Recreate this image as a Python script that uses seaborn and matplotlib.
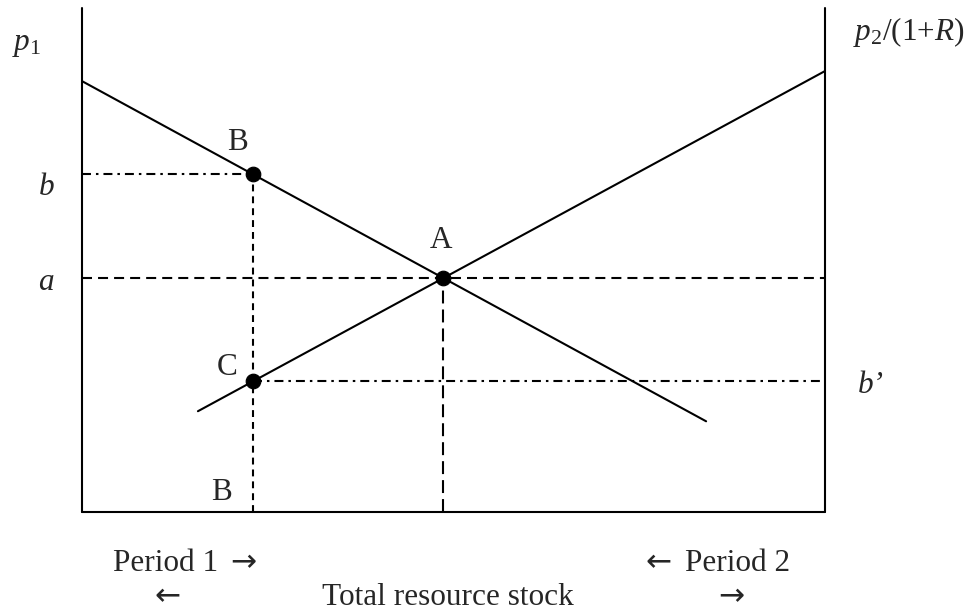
import matplotlib
matplotlib.use("Agg")
import matplotlib.pyplot as plt
import seaborn as sns
import pandas as pd

# Two-period resource allocation diagram (quantity 0..100, price 0..100)
mb1_x = [0, 84]          # period 1 marginal net benefit (falls left to right)
mb1_y = [85.5, 18.0]
mb2_x = [15.6, 100]      # period 2 marginal net benefit, discounted (measured from the right)
mb2_y = [20.0, 87.5]

point_names = ["A", "B", "C"]
point_x = [48.6, 23.0, 23.0]
point_y = [46.4, 67.0, 26.0]

level_a = 46.4
level_b = 67.0
level_b2 = 26.0
stock_left = 0
stock_right = 100
price_top = 100

sns.set_theme(style="white")
plt.rcParams["font.family"] = ["Liberation Serif", "DejaVu Serif"]
plt.rcParams["mathtext.fontset"] = "custom"
plt.rcParams["mathtext.rm"] = "Liberation Serif"
plt.rcParams["mathtext.it"] = "Liberation Serif:italic"

fig = plt.figure(figsize=(9.68, 6.14), dpi=100)
ax = fig.add_axes([0, 0, 1, 1])
ax.set_xlim(-11.04, 119.25)
ax.set_ylim(-20.24, 101.6)
ax.axis("off")

lw = 1.5
# frame: two price axes and the stock axis
ax.plot([stock_left, stock_left], [0, price_top], color="black", lw=lw)
ax.plot([stock_right, stock_right], [0, price_top], color="black", lw=lw)
ax.plot([stock_left, stock_right], [0, 0], color="black", lw=lw)

# guide lines
ax.plot([stock_left, stock_right], [level_a, level_a], color="black", lw=lw, dashes=(4.8, 2.9))
ax.plot([point_x[0], point_x[0]], [0, level_a], color="black", lw=lw, dashes=(6.2, 2.9))
ax.plot([point_x[1], point_x[1]], [0, level_b], color="black", lw=lw, dashes=(3.3, 2.4))
ax.plot([stock_left, point_x[1]], [level_b, level_b], color="black", lw=lw,
        dashes=(4.3, 2.4, 1.2, 2.4))
ax.plot([point_x[2], stock_right], [level_b2, level_b2], color="black", lw=lw,
        dashes=(4.3, 2.4, 1.2, 2.4))

# demand curves
sns.lineplot(x=mb1_x, y=mb1_y, ax=ax, color="black", lw=lw)
sns.lineplot(x=mb2_x, y=mb2_y, ax=ax, color="black", lw=lw)

pts = pd.DataFrame({"name": point_names, "x": point_x, "y": point_y})
sns.scatterplot(data=pts, x="x", y="y", ax=ax, color="black", s=110, edgecolor="black", zorder=5)

fs = 22.5
ax.text(48.3, 52.4, "A", fontsize=fs, ha="center", va="baseline")
ax.text(20.9, 71.8, "B", fontsize=fs, ha="center", va="baseline")
ax.text(19.5, 27.2, "C", fontsize=fs, ha="center", va="baseline")
ax.text(18.8, 2.4, "B", fontsize=fs, ha="center", va="baseline")

ax.text(-9.4, 92.7, r"$p_{1}$", fontsize=fs, ha="left", va="center")
ax.text(103.8, 95.2, r"$p_{2}/(1{+}R)$", fontsize=fs, ha="left", va="center")
ax.text(-4.8, 62.9, "b", fontsize=fs, style="italic", ha="center", va="baseline")
ax.text(-4.8, 44.0, "a", fontsize=fs, style="italic", ha="center", va="baseline")
ax.text(104.4, 23.6, "b\u2019", fontsize=fs, style="italic", ha="left", va="baseline")

arrow_font = ["DejaVu Sans"]
ax.text(4.2, -11.7, "Period 1", fontsize=fs, ha="left", va="baseline")
ax.text(19.9, -11.7, "\u2192", fontsize=fs, family=arrow_font, ha="left", va="baseline")
ax.text(75.8, -11.7, "\u2190", fontsize=fs, family=arrow_font, ha="left", va="baseline")
ax.text(81.2, -11.7, "Period 2", fontsize=fs, ha="left", va="baseline")
ax.text(9.8, -18.5, "\u2190", fontsize=fs, family=arrow_font, ha="left", va="baseline")
ax.text(32.3, -18.5, "Total resource stock", fontsize=fs, ha="left", va="baseline")
ax.text(85.6, -18.5, "\u2192", fontsize=fs, family=arrow_font, ha="left", va="baseline")

fig.savefig("out.png", dpi=100)
